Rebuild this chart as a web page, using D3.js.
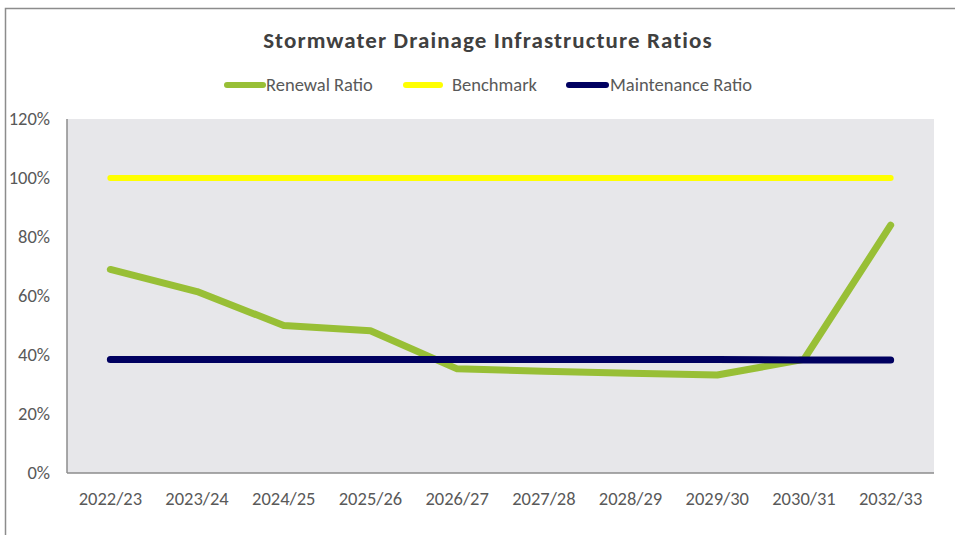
<!DOCTYPE html>
<html>
<head>
<meta charset="utf-8">
<script src="https://cdn.jsdelivr.net/npm/d3@7"></script>
<style>
  body { margin: 0; background: #fff; }
  text { font-family: Carlito, Lato, "Open Sans", sans-serif; }
</style>
</head>
<body>
<div id="chart"></div>
<script>
// chart data
var years = ["2022/23", "2023/24", "2024/25", "2025/26", "2026/27", "2027/28", "2028/29", "2029/30", "2030/31", "2032/33"]
var renewalRatio = [0.69, 0.615, 0.50, 0.482, 0.353, 0.345, 0.338, 0.332, 0.385, 0.84]
var benchmark = [1, 1, 1, 1, 1, 1, 1, 1, 1, 1]
var maintenanceRatio = [0.385, 0.385, 0.385, 0.385, 0.385, 0.385, 0.385, 0.385, 0.383, 0.383]
var yTicks = [0, 0.2, 0.4, 0.6, 0.8, 1.0, 1.2]

var seriesList = [
  { name: "Renewal Ratio", values: renewalRatio, color: "#98bf36", width: 7 },
  { name: "Benchmark", values: benchmark, color: "#ffff00", width: 6 },
  { name: "Maintenance Ratio", values: maintenanceRatio, color: "#000060", width: 7 }
]

var W = 955, H = 535
var margin = { top: 119, right: 21, bottom: 62, left: 67 },
  width = W - margin.left - margin.right,
  height = H - margin.top - margin.bottom

var svg = d3.select("#chart").append("svg")
  .attr("width", W)
  .attr("height", H)

// outer chart border
svg.append("rect")
  .attr("x", 5.5).attr("y", 8.5)
  .attr("width", W + 10).attr("height", H + 10)
  .attr("fill", "none")
  .attr("stroke", "#8c8c8c")
  .attr("stroke-width", 1.5)

// title
svg.append("text")
  .attr("x", 488).attr("y", 48)
  .attr("text-anchor", "middle")
  .attr("font-size", 23)
  .attr("font-weight", "bold")
  .attr("letter-spacing", 1.1)
  .attr("fill", "#404040")
  .text("Stormwater Drainage  Infrastructure Ratios")

var g = svg.append("g")
  .attr("transform", "translate(" + margin.left + "," + margin.top + ")")

var x = d3.scaleBand().domain(years).range([0, width])
var y = d3.scaleLinear().domain([0, 1.2]).range([height, 0])

// plot background
g.append("rect")
  .attr("width", width).attr("height", height)
  .attr("fill", "#e7e7ea")

// y axis labels
var yAxis = g.append("g")
  .call(d3.axisLeft(y).tickValues(yTicks).tickFormat(d3.format(".0%")).tickSize(0).tickPadding(17))
yAxis.select(".domain").remove()
yAxis.selectAll("text")
  .attr("font-size", 18.5)
  .attr("fill", "#595959")
  .style("font-family", "Carlito, Lato, 'Open Sans', sans-serif")

// x axis labels
var xAxis = g.append("g")
  .attr("transform", "translate(0," + height + ")")
  .call(d3.axisBottom(x).tickSize(0).tickPadding(19))
xAxis.select(".domain").remove()
xAxis.selectAll("text")
  .attr("font-size", 18.5)
  .attr("fill", "#595959")
  .style("font-family", "Carlito, Lato, 'Open Sans', sans-serif")

// axis lines left and bottom
g.append("line")
  .attr("x1", 0).attr("y1", 0).attr("x2", 0).attr("y2", height)
  .attr("stroke", "#8c8c8c").attr("stroke-width", 1.5)
g.append("line")
  .attr("x1", 0).attr("y1", height).attr("x2", width).attr("y2", height)
  .attr("stroke", "#8c8c8c").attr("stroke-width", 1.5)

var valueline = d3.line()
  .x(function(d, i) { return x(years[i]) + x.bandwidth() / 2 })
  .y(function(d) { return y(d) })

// draw order: benchmark, renewal, maintenance
var order = [seriesList[1], seriesList[0], seriesList[2]]
order.forEach(function(s) {
  g.append("path")
    .datum(s.values)
    .attr("d", valueline)
    .attr("fill", "none")
    .attr("stroke", s.color)
    .attr("stroke-width", s.width)
    .attr("stroke-linecap", "round")
    .attr("stroke-linejoin", "round")
})

// legend
var legendLine = [[227, 263], [406, 440], [569, 606]]
var legendText = [266, 452, 610]
var legend = svg.append("g")
seriesList.forEach(function(s, i) {
  legend.append("line")
    .attr("x1", legendLine[i][0]).attr("x2", legendLine[i][1])
    .attr("y1", 85).attr("y2", 85)
    .attr("stroke", s.color)
    .attr("stroke-width", 6)
    .attr("stroke-linecap", "round")
  legend.append("text")
    .attr("x", legendText[i]).attr("y", 91)
    .attr("font-size", 18.5)
    .attr("fill", "#595959")
    .text(s.name)
})
</script>
</body>
</html>
